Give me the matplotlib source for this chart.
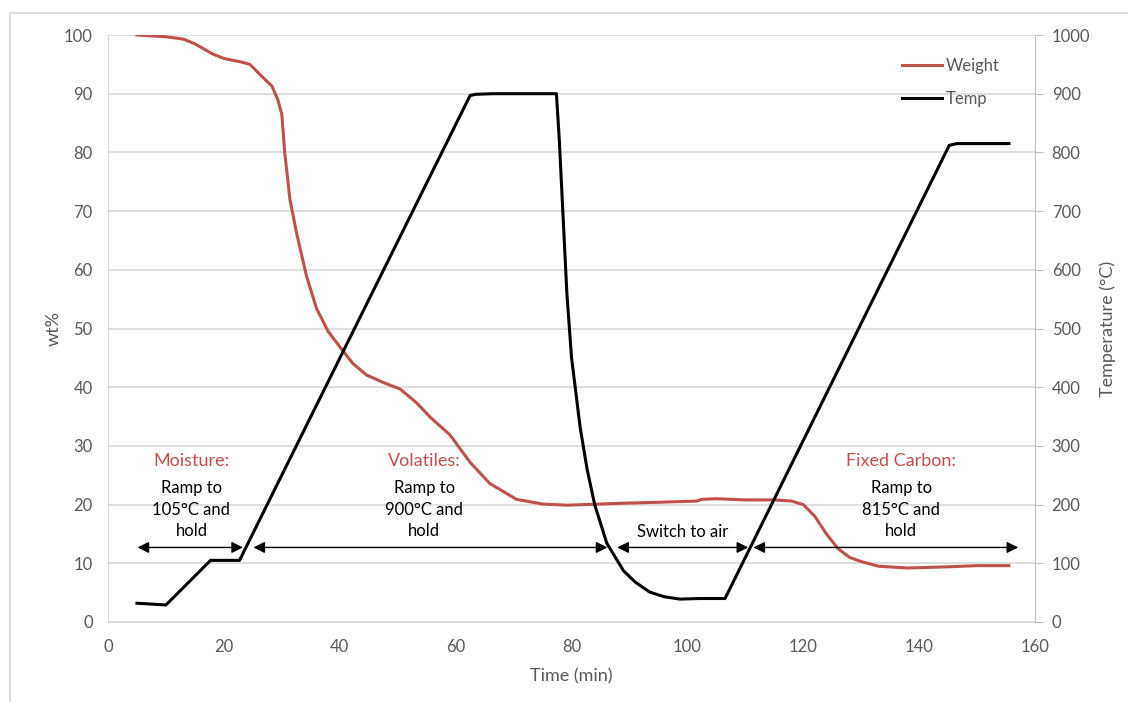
import numpy as np
import matplotlib as mpl
import matplotlib.pyplot as plt
from matplotlib.patches import Rectangle

# data
weight_t = [5, 10, 13, 15, 18, 20, 23, 24.5, 26.5, 28.3, 29.3, 30.0, 30.5, 31.4,
            32.6, 34.3, 36.0, 38, 40.0, 42.3, 44.6, 47.5, 50.4, 53.3, 55.6,
            59.0, 62.5, 65.9, 70.5, 75, 79.2, 87.8, 95, 101.6, 102.5, 105, 110,
            115, 118, 120, 122, 124, 126, 128, 130, 133, 138, 145, 150, 155.5]
weight = [100, 99.7, 99.3, 98.5, 96.8, 96.0, 95.4, 95.0, 93.0, 91.3, 89.0, 86.5,
          80.0, 72.0, 66.0, 58.8, 53.4, 49.5, 46.9, 44.0, 42.1, 40.8, 39.7,
          37.3, 34.9, 31.9, 27.2, 23.6, 20.9, 20.1, 19.9, 20.2, 20.4, 20.6,
          20.9, 21.0, 20.8, 20.8, 20.6, 20.0, 18.0, 15.0, 12.5, 11.0, 10.3,
          9.5, 9.2, 9.4, 9.6, 9.6]

temp_t = [5, 10, 17.7, 22.7, 62.5, 63.5, 66.5, 77.4, 77.9, 78.4, 78.8, 79.2,
          80.0, 81.5, 82.7, 84.0, 86.1, 89.0, 91, 93.5, 96, 98.7, 102, 106.5,
          145.2, 146.5, 155.5]
temp = [32, 29, 105, 105, 897, 899, 900, 900, 820, 720, 640, 560, 451, 331, 260,
        200, 134, 87, 68, 51, 43, 39, 40, 40, 812, 815, 815]

stage_names = ['Moisture:', 'Volatiles:', '', 'Fixed Carbon:']
stage_notes = ['Ramp to\n105°C and\nhold', 'Ramp to\n900°C and\nhold',
               'Switch to air', 'Ramp to\n815°C and\nhold']
stage_start = [5.1, 25.1, 87.9, 111.4]
stage_end = [23.3, 86.2, 110.5, 157.1]
stage_mid = [14.4, 54.6, 99.2, 136.9]

RED = '#C0504D'
GRAY = '#595959'
GRID = '#d9d9d9'

mpl.rcParams['font.family'] = ['Lato', 'DejaVu Sans']

fig = plt.figure(figsize=(11.28, 7.02), dpi=100)
ax = fig.add_axes([108 / 1128, 80 / 702, 927 / 1128, 587 / 702])
ax2 = ax.twinx()

# light chart-area border like the spreadsheet export
fig.patches.append(Rectangle((10 / 1128, -0.1), 1.2, (702 - 13) / 702 + 0.1,
                             transform=fig.transFigure, fill=False,
                             ec=GRID, lw=1.2))

ax.set_xlim(0, 160)
ax.set_ylim(0, 100)
ax2.set_ylim(0, 1000)
ax.set_xticks(range(0, 161, 20))
ax.set_yticks(range(0, 101, 10))
ax2.set_yticks(range(0, 1001, 100))

ax.yaxis.grid(True, color=GRID, lw=1.2)
ax.set_axisbelow(True)
for a in (ax, ax2):
    for s in a.spines.values():
        s.set_visible(False)
ax.spines['left'].set_visible(True)
ax.spines['bottom'].set_visible(True)
ax2.spines['right'].set_visible(True)
ax.spines['left'].set_color(GRID)
ax.spines['bottom'].set_color(GRID)
ax2.spines['right'].set_color('#bfbfbf')
ax.tick_params(axis='x', length=0, colors=GRAY, labelsize=12, pad=12)
ax.tick_params(axis='y', length=0, colors=GRAY, labelsize=12, pad=11)
ax2.tick_params(axis='y', length=6, color='#bfbfbf', labelcolor=GRAY,
                labelsize=12, pad=6)

ax.set_xlabel('Time (min)', color=GRAY, fontsize=13, labelpad=10)
ax.set_ylabel('wt%', color=GRAY, fontsize=13, labelpad=1.5)
ax2.set_ylabel('Temperature (°C)', color=GRAY, fontsize=13, labelpad=7)

l1, = ax.plot(weight_t, weight, color=RED, lw=2.2, label='Weight')
l2, = ax2.plot(temp_t, temp, color='black', lw=2.2, label='Temp')

# stage annotations on the weight axis
arrow_y = 12.7
for name, note, x0, x1, xm in zip(stage_names, stage_notes, stage_start,
                                  stage_end, stage_mid):
    ax.annotate('', xy=(x0, arrow_y), xytext=(x1, arrow_y),
                arrowprops=dict(arrowstyle='<|-|>', color='black', lw=1,
                                mutation_scale=17, shrinkA=0, shrinkB=0))
    if name:
        ax.text(xm, 27.4, name, color=RED, fontsize=13, ha='center', va='center')
        ax.text(xm, 19.1, note, color='black', fontsize=12, ha='center',
                va='center', linespacing=1.42)
    else:
        ax.text(xm, 15.4, note, color='black', fontsize=12, ha='center',
                va='center')

leg = ax2.legend(handles=[l1, l2], loc='upper right', frameon=False,
                 bbox_to_anchor=(0.978, 0.986), handlelength=2.4,
                 handletextpad=0.2, labelspacing=1.0, fontsize=12)
for t in leg.get_texts():
    t.set_color(GRAY)

fig.savefig('out.png', dpi=100)
